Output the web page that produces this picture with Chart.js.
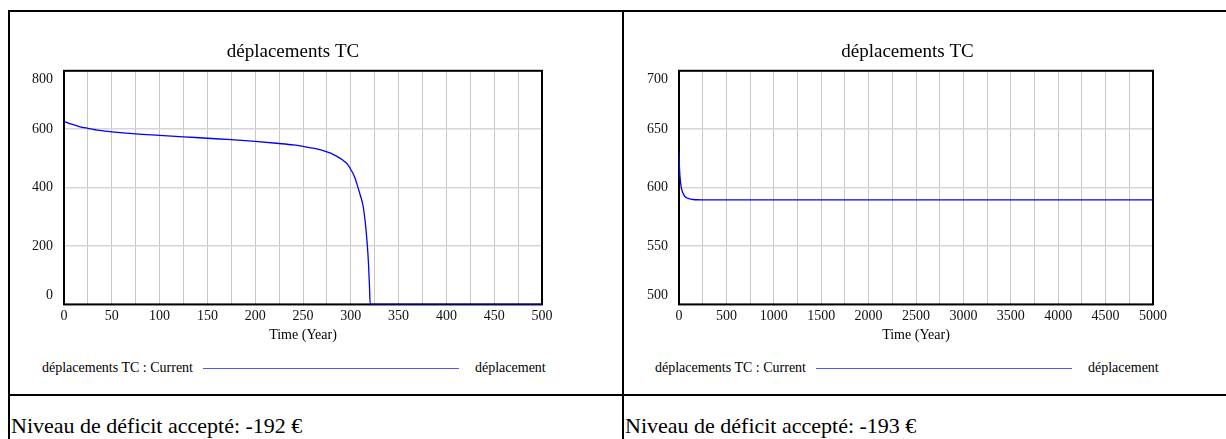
<!DOCTYPE html>
<html>
<head>
<meta charset="utf-8">
<script src="https://cdn.jsdelivr.net/npm/chart.js@4.4.1/dist/chart.umd.min.js"></script>
<style>
body { margin:0; background:#fff; width:1226px; height:439px; overflow:hidden; position:relative; font-family:"Liberation Serif", "Times New Roman", serif; color:#000; }
.rule { position:absolute; background:#000; }
.box { position:absolute; }
.legend { position:absolute; font-size:14px; line-height:16px; white-space:nowrap; }
.legline { position:absolute; height:1px; background:#5555ff; }
.caption { position:absolute; font-size:22px; line-height:26px; white-space:nowrap; }
</style>
</head>
<body>
<div class="rule" style="left:8px;top:10px;width:1218px;height:2px"></div>
<div class="rule" style="left:8px;top:10px;width:2px;height:429px"></div>
<div class="rule" style="left:622px;top:10px;width:2px;height:429px"></div>
<div class="rule" style="left:8px;top:394px;width:1218px;height:2px"></div>

<div class="box" style="left:10px;top:12px;width:612px;height:332px"><canvas id="chartA"></canvas></div>
<div class="box" style="left:624px;top:12px;width:602px;height:332px"><canvas id="chartB"></canvas></div>

<div class="legend" style="left:42px;top:360px">déplacements TC : Current</div>
<div class="legline" style="left:203px;top:368px;width:256px"></div>
<div class="legend" style="left:475px;top:360px">déplacement</div>

<div class="legend" style="left:655px;top:360px">déplacements TC : Current</div>
<div class="legline" style="left:816px;top:368px;width:256px"></div>
<div class="legend" style="left:1088px;top:360px">déplacement</div>

<div class="caption" style="left:11px;top:413px">Niveau de déficit accepté: -192 €</div>
<div class="caption" style="left:625px;top:413px">Niveau de déficit accepté: -193 €</div>

<script>
const seriesName = 'déplacements TC';

// run A : 0..500 years
const timeA = [0, 8, 16, 25, 37, 50, 75, 100, 125, 150, 175, 200, 225, 240, 250, 262, 275, 282, 289, 294, 297, 301, 304, 307, 310, 312.5, 315, 317, 318.5, 319.5, 320.3, 500];
const valuesA = [627, 617, 609, 603, 596, 591, 584, 579, 574, 569, 564, 558, 551, 546, 541, 534, 522, 513, 500, 488, 478, 456, 436, 406, 373, 343, 285, 215, 140, 65, 0, 0];

// run B : 0..5000 years
const timeB = [0, 5, 10, 16, 21, 30, 38, 50, 63, 80, 98, 125, 151, 190, 250, 5000];
const valuesB = [630, 617, 610, 605, 601.5, 598, 596, 594, 592.4, 591.3, 590.7, 590.1, 589.8, 589.6, 589.5, 589.5];

const yTicksA = [0, 800, 200];     // min, max, step
const yTicksB = [500, 700, 50];
const xTicksA = [0, 500, 25, 50];  // min, max, grid step, label step
const xTicksB = [0, 5000, 250, 500];

const serif = 'Liberation Serif, Times New Roman, serif';

// black frame round the plot area
const plotFrame = {
    id: 'plotFrame',
    beforeDatasetsDraw(chart) {
        const a = chart.chartArea;
        const ctx = chart.ctx;
        ctx.save();
        ctx.strokeStyle = '#000';
        ctx.lineWidth = 2;
        ctx.strokeRect(a.left, a.top, a.right - a.left, a.bottom - a.top);
        ctx.restore();
    }
};

// first and last y labels pulled inside the plot, like Vensim does
const innerYLabels = {
    id: 'innerYLabels',
    beforeDraw(chart) {
        const items = chart.scales.y.getLabelItems();
        if (!items.length || items._moved) return;
        items._moved = true;
        items[0].options.translation[1] -= 9;
        items[items.length - 1].options.translation[1] += 9;
    }
};

// yW: width of the y axis, padR: right padding of the title box,
// plotR: room kept right of the plot
function makeChart(id, times, values, yT, xT, yW, padR, plotR) {
    const pts = times.map((t, i) => ({ x: t, y: values[i] }));
    return new Chart(document.getElementById(id), {
        type: 'line',
        data: {
            datasets: [{
                label: seriesName + ' : Current',
                data: pts,
                borderColor: '#0000ff',
                borderWidth: 1.3,
                pointRadius: 0,
                cubicInterpolationMode: 'monotone',
                fill: false
            }]
        },
        options: {
            responsive: true,
            maintainAspectRatio: false,
            animation: false,
            layout: { padding: { left: 0, right: padR, top: 0, bottom: 0 } },
            plugins: {
                legend: { display: false },
                tooltip: { enabled: false },
                title: {
                    display: true,
                    text: seriesName,
                    color: '#000',
                    font: { family: serif, size: 19, weight: 'normal' },
                    padding: { top: 29, bottom: 7 }
                }
            },
            scales: {
                x: {
                    type: 'linear',
                    min: xT[0], max: xT[1],
                    border: { display: false },
                    grid: { color: '#c8c8c8', lineWidth: 1, drawTicks: false },
                    ticks: {
                        stepSize: xT[2],
                        autoSkip: false,
                        maxRotation: 0,
                        padding: 4,
                        color: '#111',
                        font: { family: serif, size: 14 },
                        callback: v => (v % xT[3] === 0 ? String(v) : '')
                    },
                    title: {
                        display: true,
                        text: 'Time (Year)',
                        color: '#000',
                        font: { family: serif, size: 14 },
                        padding: { top: -2, bottom: 0 }
                    },
                    afterFit: s => { s.paddingRight = plotR; }
                },
                y: {
                    min: yT[0], max: yT[1],
                    border: { display: false },
                    grid: { color: '#d6d6d6', lineWidth: 1.5, drawTicks: false },
                    ticks: {
                        stepSize: yT[2],
                        autoSkip: false,
                        padding: 11,
                        color: '#111',
                        font: { family: serif, size: 14 }
                    },
                    afterFit: s => { s.width = yW; }
                }
            }
        },
        plugins: [plotFrame, innerYLabels]
    });
}

makeChart('chartA', timeA, valuesA, yTicksA, xTicksA, 54, 46, 80);
makeChart('chartB', timeB, valuesB, yTicksB, xTicksB, 55, 35, 73);
</script>
</body>
</html>
